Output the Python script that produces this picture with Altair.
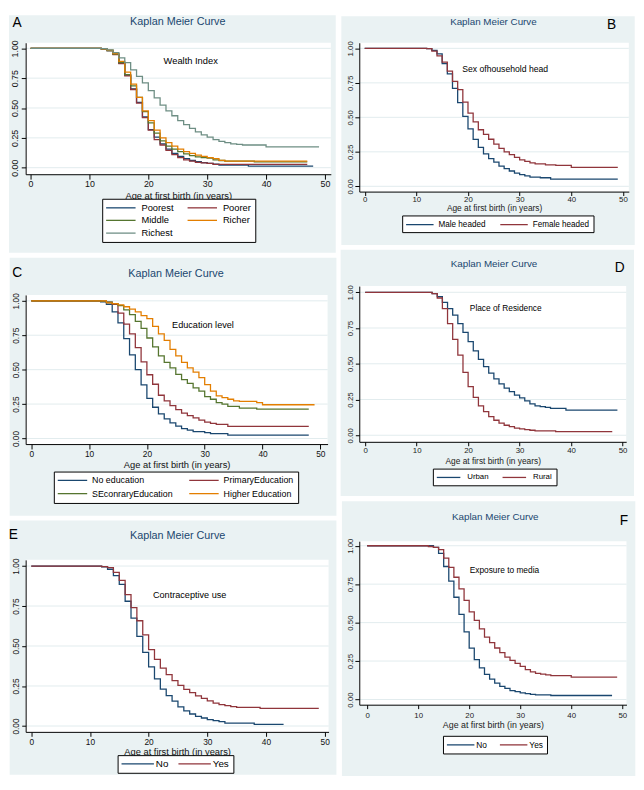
import altair as alt
import pandas as pd

FONT = "Liberation Sans"
PANEL_BG = "#EAF2F3"
GRID_COLOR = "#E1ECEE"
NAVY = "#1A476F"
MAROON = "#90353B"
FGREEN = "#55752F"
DKORANGE = "#E37E00"
TEAL = "#6E8E84"

TITLE_TEXT = "Kaplan Meier Curve"
X_TITLE = "Age at first birth (in years)"
X_TICKS = [0, 10, 20, 30, 40, 50]
Y_TICKS = [0.0, 0.25, 0.5, 0.75, 1.0]

# Survival estimates, one value per year of age starting at FIRST_AGE (1.0 before it)
FIRST_AGE = 12

# A - Wealth index
A_poorest = [0.995, 0.98, 0.95, 0.875, 0.775, 0.66, 0.548, 0.425, 0.318, 0.255, 0.2, 0.155, 0.12,
             0.095, 0.075, 0.06, 0.05, 0.042, 0.035, 0.03, 0.022, 0.022, 0.022, 0.022, 0.022,
             0.012, 0.012, 0.012, 0.012, 0.012, 0.012, 0.012, 0.012, 0.012, 0.012, 0.012, 0.012]
A_poorer = [0.995, 0.98, 0.948, 0.872, 0.77, 0.655, 0.54, 0.42, 0.315, 0.235, 0.19, 0.145, 0.11,
            0.085, 0.065, 0.055, 0.045, 0.04, 0.035, 0.028, 0.028, 0.028, 0.028, 0.028, 0.028,
            0.028, 0.028, 0.028, 0.028, 0.028, 0.028, 0.028, 0.028, 0.028, 0.028, 0.028]
A_middle = [0.995, 0.982, 0.952, 0.88, 0.78, 0.685, 0.59, 0.47, 0.375, 0.29, 0.225, 0.18, 0.155,
            0.135, 0.115, 0.1, 0.09, 0.085, 0.08, 0.065, 0.06, 0.055, 0.055, 0.055, 0.055, 0.055,
            0.048, 0.048, 0.048, 0.048, 0.048, 0.048, 0.048, 0.048, 0.048, 0.048]
A_richer = [0.995, 0.985, 0.955, 0.89, 0.8, 0.7, 0.59, 0.475, 0.395, 0.315, 0.25, 0.21, 0.18,
            0.155, 0.135, 0.12, 0.105, 0.095, 0.085, 0.075, 0.062, 0.054, 0.054, 0.054, 0.054,
            0.054, 0.054, 0.054, 0.054, 0.054, 0.054, 0.054, 0.054, 0.054, 0.054, 0.054]
A_richest = [0.997, 0.988, 0.965, 0.92, 0.88, 0.82, 0.765, 0.71, 0.645, 0.585, 0.525, 0.475, 0.435,
             0.395, 0.36, 0.33, 0.3, 0.275, 0.255, 0.235, 0.22, 0.21, 0.2, 0.195, 0.19, 0.19, 0.19,
             0.19, 0.175, 0.175, 0.175, 0.175, 0.175, 0.175, 0.175, 0.175, 0.175, 0.175]

# B - Sex of household head
B_male = [0.998, 0.985, 0.96, 0.89, 0.815, 0.71, 0.607, 0.507, 0.417, 0.34, 0.282, 0.235, 0.2,
          0.175, 0.147, 0.128, 0.111, 0.095, 0.085, 0.076, 0.066, 0.066, 0.062, 0.062, 0.052,
          0.052, 0.052, 0.052, 0.052, 0.052, 0.052, 0.052, 0.052, 0.052, 0.052, 0.052, 0.052, 0.052]
B_female = [0.998, 0.98, 0.945, 0.9, 0.835, 0.76, 0.7, 0.61, 0.53, 0.467, 0.41, 0.377, 0.341,
            0.306, 0.275, 0.25, 0.23, 0.21, 0.192, 0.18, 0.17, 0.163, 0.163, 0.156, 0.156, 0.152,
            0.152, 0.152, 0.138, 0.138, 0.138, 0.138, 0.138, 0.138, 0.138, 0.138, 0.138, 0.138]

# C - Education level
C_none = [0.993, 0.975, 0.92, 0.84, 0.726, 0.607, 0.5, 0.39, 0.291, 0.227, 0.178, 0.143, 0.114,
          0.09, 0.071, 0.06, 0.05, 0.05, 0.043, 0.036, 0.036, 0.036, 0.024, 0.024, 0.024, 0.024,
          0.024, 0.024, 0.024, 0.024, 0.024, 0.024, 0.024, 0.024, 0.024, 0.024, 0.024]
C_primary = [0.997, 0.99, 0.975, 0.91, 0.83, 0.76, 0.66, 0.556, 0.463, 0.394, 0.314, 0.273, 0.238,
             0.209, 0.185, 0.166, 0.15, 0.133, 0.119, 0.109, 0.102, 0.102, 0.088, 0.088, 0.088,
             0.088, 0.088, 0.088, 0.088, 0.088, 0.088, 0.088, 0.088, 0.088, 0.088, 0.088, 0.088]
C_secondary = [0.998, 0.99, 0.98, 0.965, 0.935, 0.9, 0.85, 0.8, 0.73, 0.665, 0.6, 0.553, 0.513,
               0.466, 0.428, 0.4, 0.368, 0.344, 0.304, 0.285, 0.261, 0.25, 0.233, 0.233, 0.221,
               0.221, 0.221, 0.214, 0.214, 0.214, 0.214, 0.214, 0.214, 0.214, 0.214, 0.214, 0.214]
C_higher = [1.0, 0.985, 0.98, 0.97, 0.957, 0.94, 0.92, 0.893, 0.87, 0.815, 0.76, 0.713, 0.648,
            0.6, 0.553, 0.513, 0.482, 0.442, 0.392, 0.344, 0.309, 0.297, 0.285, 0.273, 0.27, 0.27,
            0.27, 0.26, 0.245, 0.245, 0.245, 0.245, 0.245, 0.245, 0.245, 0.245, 0.245, 0.245]

# D - Place of residence
D_urban = [1.0, 0.99, 0.97, 0.93, 0.885, 0.84, 0.78, 0.72, 0.655, 0.59, 0.53, 0.48, 0.435, 0.395,
           0.36, 0.33, 0.305, 0.28, 0.262, 0.24, 0.22, 0.205, 0.2, 0.195, 0.188, 0.188, 0.188,
           0.176, 0.176, 0.176, 0.176, 0.176, 0.176, 0.176, 0.176, 0.176, 0.176, 0.176]
D_rural = [1.0, 0.99, 0.96, 0.885, 0.78, 0.67, 0.56, 0.44, 0.34, 0.265, 0.205, 0.165, 0.13, 0.105,
           0.085, 0.07, 0.06, 0.05, 0.045, 0.04, 0.035, 0.03, 0.03, 0.03, 0.03, 0.025, 0.025,
           0.025, 0.025, 0.025, 0.025, 0.025, 0.025, 0.025, 0.025, 0.025, 0.025]

# E - Contraceptive use
E_no = [0.995, 0.98, 0.94, 0.885, 0.78, 0.675, 0.56, 0.46, 0.37, 0.295, 0.23, 0.19, 0.155, 0.12,
        0.095, 0.075, 0.06, 0.05, 0.04, 0.033, 0.027, 0.018, 0.018, 0.018, 0.018, 0.018, 0.01,
        0.01, 0.01, 0.01, 0.01, 0.01]
E_yes = [0.997, 0.99, 0.96, 0.91, 0.822, 0.74, 0.658, 0.57, 0.478, 0.417, 0.362, 0.321, 0.284,
         0.254, 0.229, 0.209, 0.188, 0.172, 0.157, 0.143, 0.133, 0.127, 0.121, 0.117, 0.117,
         0.117, 0.117, 0.11, 0.11, 0.11, 0.11, 0.11, 0.11, 0.11, 0.11, 0.11, 0.11, 0.11]

# F - Exposure to media
F_no = [1.0, 0.99, 0.95, 0.865, 0.77, 0.665, 0.553, 0.44, 0.334, 0.26, 0.206, 0.164, 0.132, 0.106,
        0.085, 0.072, 0.057, 0.051, 0.043, 0.038, 0.034, 0.03, 0.03, 0.03, 0.026, 0.026, 0.026,
        0.026, 0.026, 0.026, 0.026, 0.026, 0.026, 0.026, 0.026, 0.026, 0.026]
F_yes = [0.995, 0.99, 0.975, 0.92, 0.86, 0.795, 0.72, 0.645, 0.57, 0.515, 0.46, 0.405, 0.37,
         0.335, 0.305, 0.275, 0.255, 0.235, 0.215, 0.195, 0.18, 0.17, 0.165, 0.16, 0.155, 0.155,
         0.155, 0.155, 0.145, 0.145, 0.145, 0.145, 0.145, 0.145, 0.145, 0.145, 0.145, 0.145]

SYM_NOMINAL = 8.0      # nominal legend symbol size (px) that sets the row height
SYM_STROKE = 1.3

# title/letter positions: (centre x, top y, font size); text drawn with a "top" baseline
PANELS = {
    "A": dict(panel=(8, 8, 341, 250), view=(25, 36, 336, 170), xcal=(30, 330), ycal=(41.7, 163.3),
              title=(180, 8.6, 11), letter=("A", 16.2, 8.6, 14),
              note=("Wealth Index", 27.2, 0.89, 9.5),
              series=[("Poorest", NAVY, A_poorest), ("Poorer", MAROON, A_poorer),
                      ("Middle", FGREEN, A_middle), ("Richer", DKORANGE, A_richer),
                      ("Richest", TEAL, A_richest)],
              legend=dict(box=(103, 195), sym=30, font=9.5, pad=4, row=3, col=11, off=6),
              axis=dict(tick=9, title=9.5, xtick=5, ytick=4.5, xpad=1, ypad=1.5, tpad=1.5, color="#111111")),
    "B": dict(panel=(345, 8, 644, 241), view=(363.3, 35, 638, 186.7), xcal=(368.8, 632), ycal=(40.7, 181.3),
              title=(500, 8.6, 10), letter=("B", 620.5, 9.7, 14),
              note=("Sex ofhousehold head", 27.2, 0.85, 8.8),
              series=[("Male headed", NAVY, B_male), ("Female headed", MAROON, B_female)],
              legend=dict(box=(407, 211), sym=28, font=8.3, pad=4, row=2, col=12, off=5),
              axis=dict(tick=8, title=8.5, xtick=4, ytick=4.5, xpad=0.5, ypad=0.5, tpad=0, color="#222222")),
    "C": dict(panel=(8, 255, 341, 518), view=(24.3, 293, 332, 445), xcal=(30, 324.6), ycal=(299, 439.3),
              title=(177.5, 265.9, 11), letter=("C", 15.8, 264, 14),
              note=("Education level", 29.7, 0.827, 9.3),
              series=[("No education", NAVY, C_none), ("PrimaryEducation", MAROON, C_primary),
                      ("SEconraryEducation", FGREEN, C_secondary), ("Higher Education", DKORANGE, C_higher)],
              legend=dict(box=(53, 473), sym=30, font=9, pad=4, row=3.5, col=13, off=5),
              axis=dict(tick=8.5, title=9.5, xtick=5, ytick=4, xpad=1, ypad=1.5, tpad=1.5, color="#111111")),
    "D": dict(panel=(345, 246, 644, 497), view=(364, 283, 636, 441.7), xcal=(370, 632.3), ycal=(289.3, 435),
              title=(501.3, 256, 10), letter=("D", 629.5, 257.3, 14),
              note=("Place of Residence", 27.3, 0.89, 8.5),
              series=[("Urban", NAVY, D_urban), ("Rural", MAROON, D_rural)],
              legend=dict(box=(439, 469), sym=24, font=8, pad=4, row=2, col=11, off=7),
              axis=dict(tick=8, title=8.5, xtick=4, ytick=4, xpad=1, ypad=0.5, tpad=2.5, color="#222222")),
    "E": dict(panel=(8, 523, 341, 782), view=(24.3, 563, 333, 738.3), xcal=(30, 329), ycal=(569.3, 732.3),
              title=(179.2, 533.2, 11), letter=("E", 11.7, 530.7, 14),
              note=("Contraceptive use", 27.0, 0.818, 9.3),
              series=[("No", NAVY, E_no), ("Yes", MAROON, E_yes)],
              legend=dict(box=(118, 762), sym=33, font=10, pad=4, row=2, col=7, off=2),
              axis=dict(tick=8.5, title=9.5, xtick=4.5, ytick=4, xpad=1.5, ypad=1.5, tpad=1, color="#111111")),
    "F": dict(panel=(345, 502, 644, 782), view=(362.7, 542.7, 635, 709.3), xcal=(370.7, 630.7), ycal=(547.3, 704),
              title=(501.3, 513.3, 10), letter=("F", 632.5, 515, 14),
              note=("Exposure to media", 26.9, 0.845, 8.5),
              series=[("No", NAVY, F_no), ("Yes", MAROON, F_yes)],
              legend=dict(box=(448, 741), sym=28, font=8.5, pad=4, row=2, col=10, off=2),
              axis=dict(tick=8, title=9, xtick=4, ytick=4.5, xpad=3, ypad=0.5, tpad=1.5, color="#222222")),
}


def km_frame(name, values):
    ages = [0] + list(range(FIRST_AGE, FIRST_AGE + len(values)))
    surv = [1.0] + list(values)
    return pd.DataFrame({"age": ages, "surv": surv, "group": name})


def build_panel(p):
    px0, py0, px1, py1 = p["panel"]
    vx0, vy0, vx1, vy1 = p["view"]
    W = vx1 - vx0
    H = vy1 - vy0
    xa0, xa50 = p["xcal"]
    ppu = (xa50 - xa0) / 50.0
    xdom = [(vx0 - xa0) / ppu, (vx1 - xa0) / ppu]
    y_one, y_zero = p["ycal"]
    ppv = y_zero - y_one
    ydom = [(y_zero - vy1) / ppv, (y_zero - vy0) / ppv]

    def lx(x):
        return x - vx0

    def ly(y):
        return y - vy0

    one = pd.DataFrame({"k": [0]})
    ax = p["axis"]
    xscale = alt.Scale(domain=xdom, nice=False, zero=False)
    yscale = alt.Scale(domain=ydom, nice=False, zero=False)
    xaxis = alt.Axis(values=X_TICKS, format="d", title=X_TITLE, grid=False,
                     domainColor="black", tickColor="black", tickSize=ax["xtick"],
                     labelPadding=ax["xpad"], labelFont=FONT, labelFontSize=ax["tick"],
                     labelColor=ax["color"], labelFlush=False, labelOverlap=False,
                     titleFont=FONT, titleFontSize=ax["title"], titleFontWeight="normal",
                     titleColor=ax["color"], titlePadding=ax["tpad"], zindex=1)
    yaxis = alt.Axis(values=Y_TICKS, format=".2f", title=None, grid=False,
                     domainColor="black", tickColor="black", tickSize=ax["ytick"],
                     labelPadding=ax["ypad"], labelFont=FONT, labelFontSize=ax["tick"],
                     labelColor=ax["color"], labelAngle=270, labelAlign="center",
                     labelBaseline="bottom", labelOverlap=False, labelFlush=False, zindex=1)
    X = alt.X("age:Q", scale=xscale, axis=xaxis)
    Y = alt.Y("surv:Q", scale=yscale, axis=yaxis)

    lg = p["legend"]
    names = [s[0] for s in p["series"]]
    colors = [s[1] for s in p["series"]]
    L = lg["sym"]
    k = L / SYM_NOMINAL
    entry = -(-(SYM_NOMINAL + SYM_STROKE) // 1)
    entry = max(entry, lg["font"])
    sym_path = "M-%.4f,0H%.4f" % (k, k)
    sym_off = L / 2 - entry / 2
    legend = alt.Legend(orient="none", legendX=lx(lg["box"][0]), legendY=ly(lg["box"][1]),
                        columns=2, direction="horizontal", symbolType=sym_path,
                        symbolSize=SYM_NOMINAL ** 2, symbolStrokeWidth=SYM_STROKE,
                        symbolOffset=sym_off,
                        labelFont=FONT, labelFontSize=lg["font"], labelColor="black",
                        labelOffset=L + lg["off"] - entry - sym_off, padding=lg["pad"],
                        rowPadding=lg["row"], columnPadding=lg["col"], fillColor="white",
                        strokeColor="black", title=None, zindex=1, labelLimit=300)
    color = alt.Color("group:N", scale=alt.Scale(domain=names, range=colors), legend=legend)

    bg = alt.Chart(one).mark_rect(color=PANEL_BG).encode(
        x=alt.value(lx(px0)), x2=alt.value(lx(px1)), y=alt.value(ly(py0)), y2=alt.value(ly(py1)))
    plot = alt.Chart(one).mark_rect(color="white").encode(
        x=alt.value(0), x2=alt.value(W), y=alt.value(0), y2=alt.value(H))
    grid = alt.Chart(pd.DataFrame({"surv": Y_TICKS})).mark_rule(
        color=GRID_COLOR, strokeWidth=1).encode(y=Y)

    layers = [bg, plot, grid]
    for name, col, vals in p["series"]:
        layers.append(alt.Chart(km_frame(name, vals)).mark_line(
            interpolate="step-after", strokeWidth=1.3).encode(x=X, y=Y, color=color))

    ntext, nage, nval, nfs = p["note"]
    layers.append(alt.Chart(pd.DataFrame({"age": [nage], "surv": [nval], "txt": [ntext]})).mark_text(
        font=FONT, fontSize=nfs, color="black", align="center", baseline="middle").encode(
        x=X, y=Y, text="txt:N"))

    tx, ty, tfs = p["title"]
    layers.append(alt.Chart(one).mark_text(
        text=TITLE_TEXT, font=FONT, fontSize=tfs, color=NAVY, align="center", baseline="top").encode(
        x=alt.value(lx(tx)), y=alt.value(ly(ty))))
    letter, lxx, lyy, lfs = p["letter"]
    layers.append(alt.Chart(one).mark_text(
        text=letter, font=FONT, fontSize=lfs, color="black", align="center", baseline="top").encode(
        x=alt.value(lx(lxx)), y=alt.value(ly(lyy))))

    return alt.layer(*layers).properties(width=W, height=H)


def column(charts):
    return alt.vconcat(*charts, spacing=5).resolve_scale(
        x="independent", y="independent", color="independent").resolve_legend(color="independent")


left = column([build_panel(PANELS[k]) for k in ["A", "C", "E"]])
right = column([build_panel(PANELS[k]) for k in ["B", "D", "F"]])

chart = alt.hconcat(left, right, spacing=4).resolve_scale(
    x="independent", y="independent", color="independent").resolve_legend(
    color="independent").properties(
    padding={"left": 0, "top": 0, "right": 0, "bottom": 0}, background="white").configure(
    padding={"left": 0, "top": 0, "right": 0, "bottom": 0}).configure_view(stroke=None)

chart.save("out.html", embed_options={"renderer": "svg", "actions": False})
